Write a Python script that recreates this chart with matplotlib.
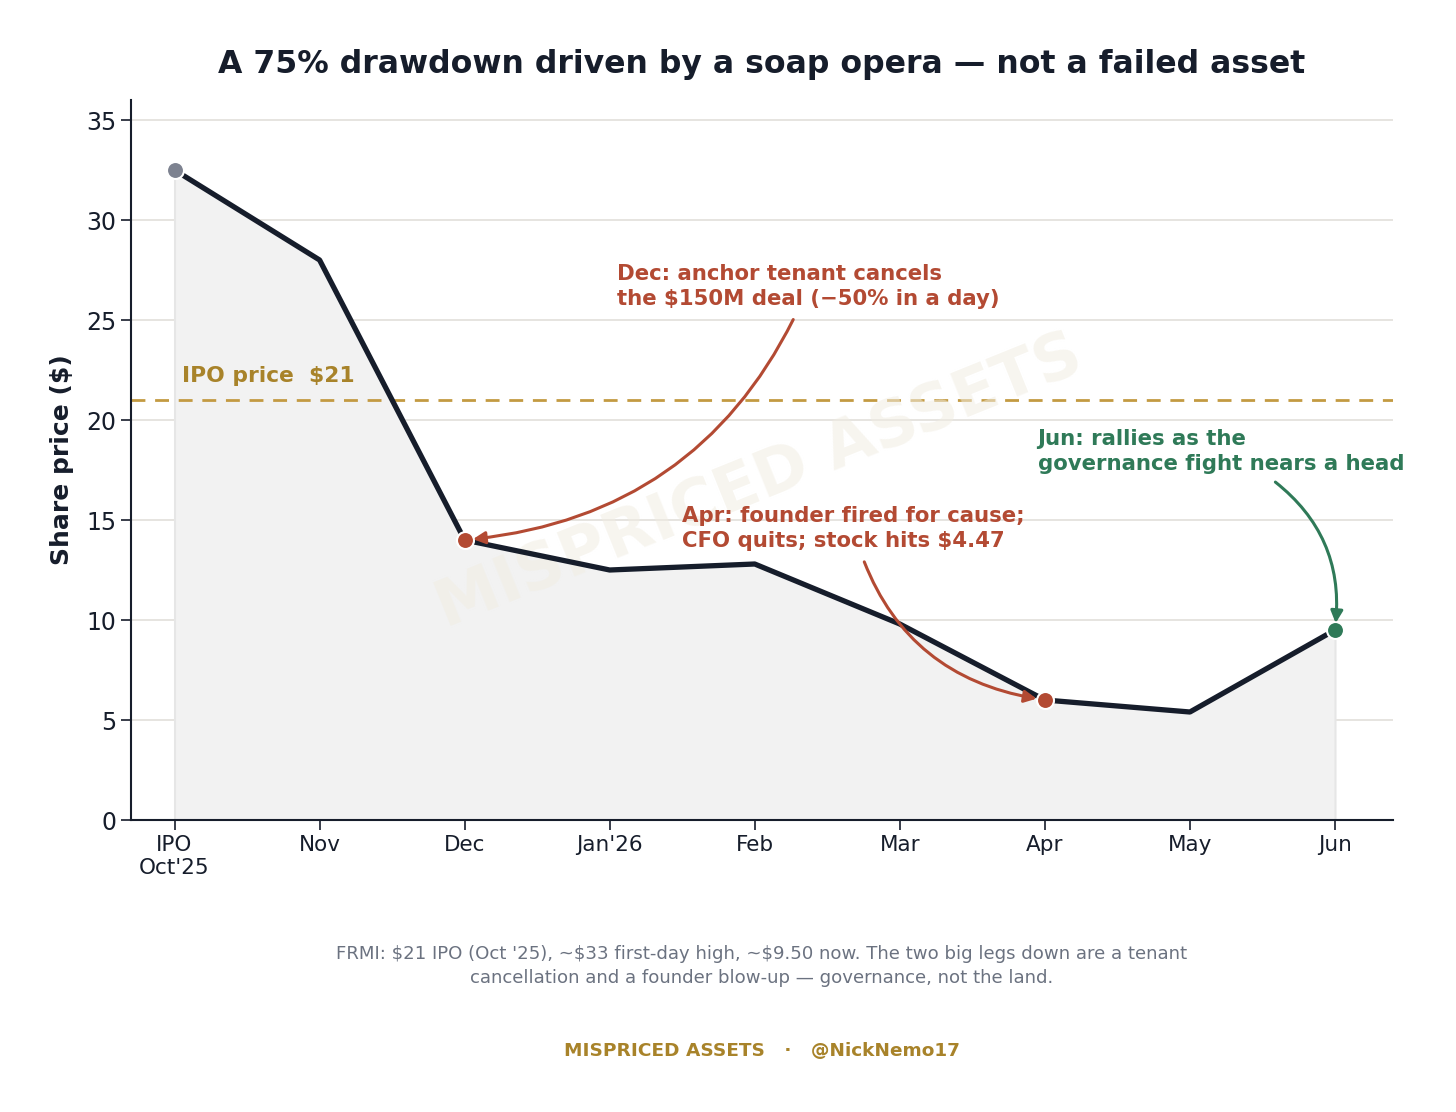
import matplotlib
matplotlib.use("Agg")
import matplotlib.pyplot as plt

months = ["IPO\nOct'25", "Nov", "Dec", "Jan'26", "Feb", "Mar", "Apr", "May", "Jun"]
prices = [32.5, 28.0, 14.0, 12.5, 12.8, 9.8, 6.0, 5.4, 9.5]
ipo_price = 21
yticks = [0, 5, 10, 15, 20, 25, 30, 35]

NAVY = "#161d2b"
RED = "#b34a33"
GREEN = "#2f7a58"
GOLD = "#a8832a"
GOLD_LINE = "#c39a42"
GRID = "#e2dfda"

plt.rcParams['font.family'] = ['DejaVu Sans']

fig = plt.figure(figsize=(14.56, 11.12), dpi=100)
ax = fig.add_axes([131/1456, 1 - 820/1112, (1393-131)/1456, (820-100)/1112])

x = list(range(len(months)))
ax.fill_between(x, prices, 0, color="#f2f2f2", edgecolor="#e6e6e6", linewidth=1.5, zorder=1)
ax.plot(x, prices, color=NAVY, linewidth=3.8, zorder=3, solid_capstyle='round')

ax.axhline(ipo_price, color=GOLD_LINE, linestyle=(0, (5, 3.5)), linewidth=2, zorder=2)
ax.text(0.05, ipo_price + 0.7, "IPO price  $21", color=GOLD, fontsize=15.7,
        fontweight='bold', ha='left', va='bottom', zorder=4)

# markers
ax.scatter([0], [prices[0]], s=150, color="#7d8290", edgecolor='white', linewidth=1.5, zorder=5)
ax.scatter([2, 6], [prices[2], prices[6]], s=150, color=RED, edgecolor='white', linewidth=1.5, zorder=5)
ax.scatter([8], [prices[8]], s=150, color=GREEN, edgecolor='white', linewidth=1.5, zorder=5)

# watermark
ax.text(4.03, 16.9, "MISPRICED ASSETS", fontsize=46, fontweight='bold', color="#f1ede2",
        rotation=22, ha='center', va='center', zorder=2, alpha=0.55)

# annotations
ann_kw = dict(fontsize=15.3, fontweight='bold', ha='left', va='top', linespacing=1.33,
              textcoords='data', zorder=6)
ax.annotate("Dec: anchor tenant cancels\nthe $150M deal (\u221250% in a day)",
            xy=(2, prices[2]), xytext=(3.05, 27.8), color=RED,
            arrowprops=dict(arrowstyle='-|>', color=RED, lw=2.2, mutation_scale=18,
                            connectionstyle='arc3,rad=-0.3', shrinkA=6, shrinkB=6),
            **ann_kw)
ax.annotate("Apr: founder fired for cause;\nCFO quits; stock hits $4.47",
            xy=(6, prices[6]), xytext=(3.5, 15.7), color=RED,
            arrowprops=dict(arrowstyle='-|>', color=RED, lw=2.2, mutation_scale=18,
                            connectionstyle='arc3,rad=0.33', shrinkA=6, shrinkB=6),
            **ann_kw)
ax.annotate("Jun: rallies as the\ngovernance fight nears a head",
            xy=(8, prices[8]), xytext=(5.95, 19.55), color=GREEN,
            arrowprops=dict(arrowstyle='-|>', color=GREEN, lw=2.2, mutation_scale=18,
                            connectionstyle='arc3,rad=-0.3', shrinkA=6, shrinkB=5,
                            relpos=(0.62, 0.0)),
            **ann_kw)

ax.set_xlim(-0.3, 8.4)
ax.set_ylim(0, 36)
ax.set_xticks(x)
ax.set_xticklabels(months, fontsize=15.5, color=NAVY)
ax.set_yticks(yticks)
ax.tick_params(axis='y', labelsize=17, colors=NAVY, length=7, width=1.2)
ax.tick_params(axis='x', colors=NAVY, length=7, width=1.2)
ax.set_ylabel("Share price ($)", fontsize=18, fontweight='bold', color=NAVY, labelpad=9)
ax.grid(axis='y', color=GRID, linewidth=1.2, zorder=0)
ax.set_axisbelow(True)
for s in ['top', 'right']:
    ax.spines[s].set_visible(False)
for s in ['left', 'bottom']:
    ax.spines[s].set_color(NAVY)
    ax.spines[s].set_linewidth(1.5)

fig.text(762/1456, 1 - 65/1112, "A 75% drawdown driven by a soap opera \u2014 not a failed asset",
         ha='center', va='center', fontsize=22.7, fontweight='bold', color=NAVY)
fig.text(762/1456, 1 - 966/1112,
         "FRMI: $21 IPO (Oct '25), ~$33 first-day high, ~$9.50 now. The two big legs down are a tenant\n"
         "cancellation and a founder blow-up \u2014 governance, not the land.",
         ha='center', va='center', fontsize=13.05, color="#6b7280", linespacing=1.45)
fig.text(762/1456, 1 - 1051/1112, "MISPRICED ASSETS   \u00b7   @NickNemo17",
         ha='center', va='center', fontsize=13.3, fontweight='bold', color=GOLD)

fig.savefig("out.png", dpi=100, facecolor='white')
